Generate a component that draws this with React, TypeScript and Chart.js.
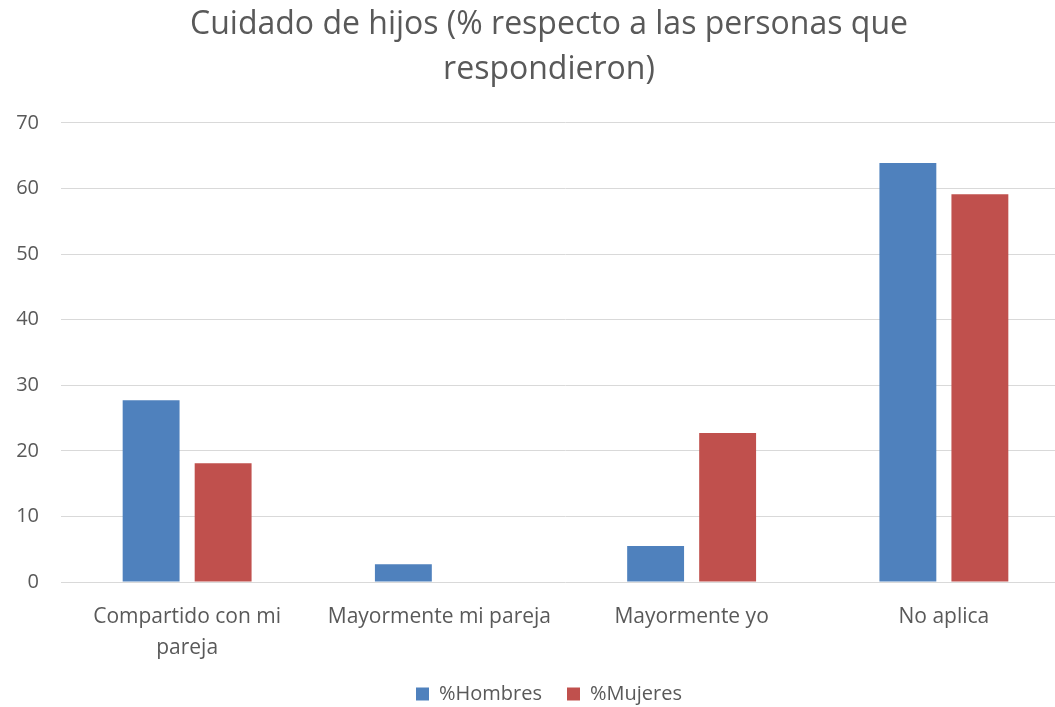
import React, { useEffect, useRef } from "react";
import { Chart, registerables } from "chart.js";

Chart.register(...registerables);

const categories: (string | string[])[] = [
  ["Compartido con mi", "pareja"],
  "Mayormente mi pareja",
  "Mayormente yo",
  "No aplica",
];
const hombres = [27.7, 2.7, 5.5, 63.9];
const mujeres = [18.1, 0, 22.7, 59.1];
const titleLines = ["Cuidado de hijos (% respecto a las personas que", "respondieron)"];

const FONT = "'Open Sans', Lato, sans-serif";
const TEXT = "#595959";

export default function App() {
  const ref = useRef<HTMLCanvasElement | null>(null);
  useEffect(() => {
    if (!ref.current) return;
    const chart = new Chart(ref.current, {
      type: "bar",
      data: {
        labels: categories,
        datasets: [
          {
            label: "%Hombres",
            data: hombres,
            backgroundColor: "#4F81BD",
            categoryPercentage: 0.571,
            barPercentage: 0.79,
          },
          {
            label: "%Mujeres",
            data: mujeres,
            backgroundColor: "#C0504D",
            categoryPercentage: 0.571,
            barPercentage: 0.79,
          },
        ],
      },
      options: {
        animation: false,
        responsive: false,
        maintainAspectRatio: false,
        layout: { padding: { left: 0, right: 0, top: 0, bottom: -7 } },
        plugins: {
          title: {
            display: true,
            text: titleLines,
            color: TEXT,
            font: { family: FONT, size: 32, weight: "normal", lineHeight: 1.42 },
            padding: { top: 2, bottom: 30 },
          },
          legend: {
            position: "bottom",
            labels: {
              color: TEXT,
              font: { family: FONT, size: 20 },
              boxWidth: 13,
              boxHeight: 13,
              padding: 25,
            },
          },
          tooltip: { enabled: false },
        },
        scales: {
          x: {
            grid: { display: false, drawTicks: false },
            border: { display: false },
            ticks: {
              color: TEXT,
              font: { family: FONT, size: 21, lineHeight: 1.5 },
              padding: 19,
              maxRotation: 0,
              autoSkip: false,
            },
            afterFit: (s: any) => {
              s.height = 77;
            },
          },
          y: {
            min: 0,
            max: 70,
            ticks: {
              stepSize: 10,
              color: TEXT,
              font: { family: FONT, size: 20 },
              padding: 22,
            },
            grid: { color: "#d9d9d9", lineWidth: 1, drawTicks: false },
            border: { display: false },
            afterFit: (s: any) => {
              s.width = 61;
            },
          },
          yRight: {
            position: "right",
            min: 0,
            max: 70,
            ticks: { display: false },
            grid: { display: false, drawTicks: false },
            border: { display: false },
            afterFit: (s: any) => {
              s.width = 28;
            },
          },
        },
      },
    });
    return () => chart.destroy();
  }, []);
  return (
    <div
      style={{
        position: "absolute",
        left: 0,
        top: 0,
        width: 1055,
        height: 707,
        overflow: "hidden",
        background: "#fff",
      }}
    >
      <canvas ref={ref} width={1098} height={707} style={{ display: "block" }} />
    </div>
  );
}
